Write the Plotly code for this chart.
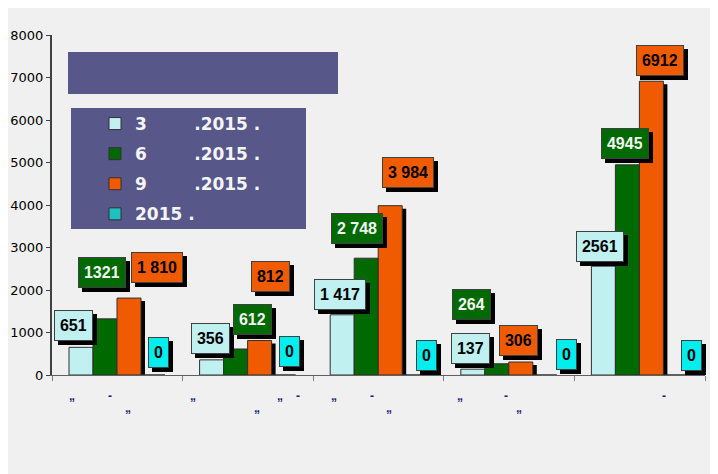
import plotly.graph_objects as go

# ---------------- data ----------------
categories = ["cat1", "cat2", "cat3", "cat4", "cat5"]  # category names (text not legible in source)
series_names = ["3\u00a0\u00a0\u00a0\u00a0\u00a0\u00a0\u00a0\u00a0.2015 .",
                "6\u00a0\u00a0\u00a0\u00a0\u00a0\u00a0\u00a0\u00a0.2015 .",
                "9\u00a0\u00a0\u00a0\u00a0\u00a0\u00a0\u00a0\u00a0.2015 .",
                "2015 ."]
values_3m = [651, 356, 1417, 137, 2561]
values_6m = [1321, 612, 2748, 264, 4945]
values_9m = [1810, 812, 3984, 306, 6912]
values_y = [0, 0, 0, 0, 0]
labels_3m = ["651", "356", "1 417", "137", "2561"]
labels_6m = ["1321", "612", "2 748", "264", "4945"]
labels_9m = ["1 810", "812", "3 984", "306", "6912"]
labels_y = ["0", "0", "0", "0", "0"]
y_ticks = [0, 1000, 2000, 3000, 4000, 5000, 6000, 7000, 8000]

# axis-label fragments that survived in the source (text, category index)
frag_text = ["„", "-", "„", "„", "„", "-", "„", "„", "-", "„", "„", "-", "„", "-"]
frag_cat = [0, 0, 0, 1, 1, 1, 1, 2, 2, 2, 3, 3, 3, 4]

# ---------------- styles / positions ----------------
bar_colors = ["#C0F0F0", "#006A00", "#F05A00", "#20C0C0"]
box_colors = ["#C0F0F0", "#006A00", "#F05A00", "#00EEEE"]
text_colors = ["#000000", "#F4F4F4", "#000000", "#000000"]
# label centre offsets (px) relative to the top centre of each bar
lab_dx = [[-8, -1, -2, -2, -3], [-3, 17, -9, -25, -2], [28, 11, 18, -2, 9], [5, 6, 12, 22, 16]]
lab_dy = [[22, 21, 20, 21, 20], [46, 29, 30, 59, 21], [31, 64, 33, 22, 21], [23, 24, 20, 21, 20]]
frag_dx = [-45, -7, 11, -55, 32, 50, 9, -45, -7, 10, -49, -3, 10, 24]
frag_row = [0, 0, 1, 0, 0, 0, 1, 0, 0, 1, 0, 0, 1, 0]

OFF = 8  # page body margin
W, H = 718 - OFF, 474 - OFF
L, T = 52 - OFF, 35 - OFF
R = W - (705 - OFF)
B = H - (375 - OFF)
plot_w = W - L - R
plot_h = H - T - B
px_per_cat = plot_w / len(categories)
bw = 24 / px_per_cat
first_off = -0.5 + 17 / px_per_cat
units_per_px = 8000 / plot_h

all_vals = [values_3m, values_6m, values_9m, values_y]
all_labs = [labels_3m, labels_6m, labels_9m, labels_y]
xs = list(range(len(categories)))

fig = go.Figure()
# shadows first
for i, vals in enumerate(all_vals):
    fig.add_trace(go.Bar(
        x=xs, y=[max(0, v - 3 * units_per_px) if v > 0 else 0 for v in vals],
        width=bw, offset=first_off + i * bw + 4 / px_per_cat,
        marker=dict(color="#000000", line=dict(width=0)),
        showlegend=False, hoverinfo="skip"))
for i, vals in enumerate(all_vals):
    fig.add_trace(go.Bar(
        x=xs, y=vals, name=series_names[i], legendgroup=f"g{i}",
        width=bw, offset=first_off + i * bw,
        marker=dict(color=bar_colors[i], line=dict(color="#303030", width=1))))


def text_w(s):
    return sum(8.9 if ch.isdigit() else 4.4 for ch in s)


annotations = []
font_lab = "Liberation Sans, Arial, sans-serif"
font_wide = "DejaVu Sans, Verdana, sans-serif"
for i, vals in enumerate(all_vals):
    for j, v in enumerate(vals):
        cx = j + first_off + i * bw + bw / 2
        common = dict(x=cx, y=v, xref="x", yref="y",
                      showarrow=False, xanchor="center", yanchor="middle",
                      width=text_w(all_labs[i][j]), height=19, borderpad=5, borderwidth=1)
        # drop shadow box
        annotations.append(dict(common, text="\u00a0", xshift=lab_dx[i][j] + 4, yshift=lab_dy[i][j] - 4,
                                bgcolor="#000000", bordercolor="#000000",
                                font=dict(family=font_lab, size=16, color="#000000")))
        annotations.append(dict(common, text=all_labs[i][j], xshift=lab_dx[i][j], yshift=lab_dy[i][j],
                                bgcolor=box_colors[i], bordercolor="#404040",
                                font=dict(family=font_lab, size=16, color=text_colors[i], weight="bold")))

for t, c, dx, r in zip(frag_text, frag_cat, frag_dx, frag_row):
    annotations.append(dict(x=c, y=0, xref="x", yref="paper", text=t, showarrow=False,
                            xshift=dx, yshift=-21 - 12 * r, yanchor="middle",
                            font=dict(family=font_lab, size=12, color="#1A1A80", weight="bold")))

def px_x(p):  # page pixel -> paper
    return (p - OFF - L) / plot_w

def px_y(p):
    return (T + plot_h - (p - OFF)) / plot_h

shapes = [
    dict(type="rect", xref="paper", yref="paper", x0=px_x(68), x1=px_x(338), y0=px_y(94), y1=px_y(52),
         fillcolor="#58578A", line=dict(width=0), layer="below"),
    dict(type="rect", xref="paper", yref="paper", x0=px_x(71), x1=px_x(306), y0=px_y(229), y1=px_y(108),
         fillcolor="#58578A", line=dict(width=0), layer="below"),
]

fig.update_layout(
    width=W, height=H,
    margin=dict(l=L, r=R, t=T, b=B, autoexpand=False),
    paper_bgcolor="#F0F0F0", plot_bgcolor="#F0F0F0",
    barmode="overlay",
    showlegend=True,
    legend=dict(x=px_x(95), y=px_y(106), xanchor="left", yanchor="top",
                bgcolor="rgba(0,0,0,0)", traceorder="grouped", tracegroupgap=5,
                font=dict(family=font_wide, size=17, color="#F4F4F4", weight="bold")),
    xaxis=dict(range=[-0.5, len(categories) - 0.5], tickvals=[k - 0.5 for k in range(len(categories) + 1)],
               showticklabels=False, ticks="outside", ticklen=5, tickcolor="#808080", automargin=False,
               showline=True, linecolor="#606060", linewidth=1, showgrid=False, zeroline=False),
    yaxis=dict(range=[0, 8000], tickvals=y_ticks, ticks="outside", ticklen=4, tickcolor="#404040",
               automargin=False,
               showline=True, linecolor="#404040", linewidth=2, showgrid=False, zeroline=False,
               tickfont=dict(family=font_wide, size=13, color="#000000")),
    annotations=annotations,
    shapes=shapes,
)

fig.write_html("out.html")
